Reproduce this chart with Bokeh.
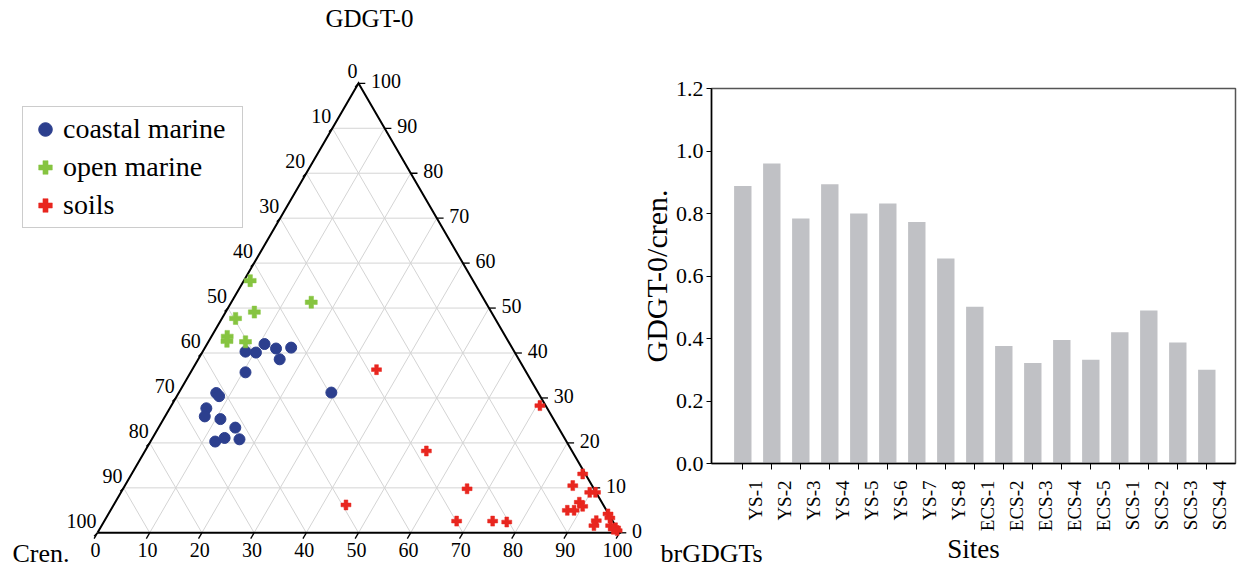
import math
import numpy as np
from bokeh.plotting import figure
from bokeh.layouts import row
from bokeh.models import (Range1d, LinearAxis, FixedTicker, Legend, LegendItem,
                          PrintfTickFormatter, CustomLabelingPolicy)
from bokeh.embed import file_html
from bokeh.resources import INLINE
from bokeh.core.properties import value

# ---------------- ternary data (percent: brGDGTs, GDGT-0, Cren.) ----------------
coastal_br = [11.0, 13.7, 16.5, 8.2, 10.3, 15.6, 10.5, 29.2, 7.2, 8.1, 7.0, 7.6, 10.9, 14.7, 13.8, 16.8, 12.4]
coastal_gdgt0 = [42.0, 41.0, 41.2, 40.3, 40.1, 38.6, 35.7, 31.2, 31.1, 30.4, 27.7, 25.9, 25.3, 23.4, 21.1, 20.8, 20.3]
coastal_cren = [47.0, 45.3, 42.3, 51.5, 49.6, 45.8, 53.8, 39.6, 61.7, 61.5, 65.3, 66.5, 63.8, 61.9, 65.1, 62.4, 67.3]

open_br = [1.2, 15.3, 5.5, 2.6, 3.0, 3.5, 7.1]
open_gdgt0 = [56.1, 51.3, 49.1, 47.7, 43.7, 42.6, 42.5]
open_cren = [42.7, 33.4, 45.4, 49.7, 53.3, 53.9, 50.4]

soil_br = [35.3, 44.5, 70.6, 53.9, 65.9, 67.5, 74.4, 77.2, 86.4, 85.8, 89.8, 90.9, 88.9, 90.0,
           88.8, 87.5, 95.7, 96.5, 94.2, 94.3, 97.5, 98.7, 99.3, 98.4]
soil_gdgt0 = [36.3, 6.2, 28.3, 18.2, 9.8, 2.6, 2.6, 2.4, 13.1, 10.5, 9.0, 9.0, 6.8, 5.9,
              5.0, 5.0, 4.2, 3.3, 2.7, 1.6, 1.6, 1.1, 0.5, 0.8]
soil_cren = [28.4, 49.3, 1.1, 27.9, 24.3, 29.9, 23.0, 20.4, 0.5, 3.7, 1.2, 0.1, 4.3, 4.1,
             6.2, 7.5, 0.1, 0.2, 3.1, 4.1, 0.9, 0.2, 0.2, 0.8]

tern_ticks = [0, 10, 20, 30, 40, 50, 60, 70, 80, 90, 100]

# ---------------- bar chart data ----------------
sites = ["YS-1", "YS-2", "YS-3", "YS-4", "YS-5", "YS-6", "YS-7", "YS-8",
         "ECS-1", "ECS-2", "ECS-3", "ECS-4", "ECS-5", "SCS-1", "SCS-2", "SCS-3", "SCS-4"]
ratio = [0.888, 0.960, 0.784, 0.894, 0.800, 0.832, 0.773, 0.656, 0.502,
         0.376, 0.322, 0.395, 0.332, 0.420, 0.490, 0.387, 0.300]
ratio_ticks = [0.0, 0.2, 0.4, 0.6, 0.8, 1.0, 1.2]

FONT = "Liberation Serif"
SQ = math.sqrt(3) / 2
PAGE_W, PAGE_H = 1239, 570


def tern_xy(br, g0, cr=None):
    br = np.asarray(br, float)
    g0 = np.asarray(g0, float)
    tot = 100.0 if cr is None else (br + g0 + np.asarray(cr, float))
    b = br / tot * 100.0
    g = g0 / tot * 100.0
    return b + g / 2.0, g * SQ


# ================= ternary figure (full page width, bar chart overlaps its right part) ====
KX, KY = 5.22, 5.19
tp = figure(width=PAGE_W, height=PAGE_H,
            x_range=Range1d(-97 / KX, -97 / KX + PAGE_W / KX),
            y_range=Range1d(532.3 / KY - PAGE_H / KY, 532.3 / KY),
            x_axis_type=None, y_axis_type=None, output_backend="svg", toolbar_location=None,
            min_border=0, outline_line_color=None, frame_align=False)
tp.grid.visible = False

# grid lines
gxs, gys = [], []
for v in tern_ticks[1:-1]:
    for (b0, g0_), (b1, g1) in [((0, v), (100 - v, v)),          # const GDGT-0
                                 ((v, 0), (v, 100 - v)),          # const brGDGTs
                                 ((100 - v, 0), (0, 100 - v))]:   # const Cren.
        x0, y0 = tern_xy(b0, g0_)
        x1, y1 = tern_xy(b1, g1)
        gxs.append([float(x0), float(x1)])
        gys.append([float(y0), float(y1)])
tp.multi_line(gxs, gys, line_color="#d4d4d4", line_width=1)

# ticks
tk = np.array(tern_ticks, float)
L = 1.3
txs, tys = [], []
for v in tk:
    x, y = tern_xy(100 - v, v)            # right axis GDGT-0
    txs.append([float(x), float(x) + L]); tys.append([float(y), float(y)])
    x, y = tern_xy(v, 0)                  # bottom axis brGDGTs
    txs.append([float(x), float(x) - 0.5 * L]); tys.append([float(y), float(y) - SQ * L])
    x, y = tern_xy(0, 100 - v)            # left axis Cren.
    txs.append([float(x), float(x) - 0.5 * L]); tys.append([float(y), float(y) - SQ * L * 0.6])
tp.multi_line(txs, tys, line_color="black", line_width=1.3)

# triangle outline
ox, oy = tern_xy([0, 100, 0, 0], [0, 0, 100, 0])
tp.line(ox, oy, line_color="black", line_width=2, line_join="miter")

# tick labels
labels = [str(int(v)) for v in tern_ticks]
lx, ly = tern_xy(0, 100 - tk)
tp.text(lx - 0.2, ly + 1.0, text=labels, text_font=value(FONT), text_font_size=value("20px"),
        text_align="right", text_baseline="bottom", text_color="black")
rx, ry = tern_xy(100 - tk, tk)
tp.text(rx + 2.4, ry + 0.4, text=labels, text_font=value(FONT), text_font_size=value("20px"),
        text_align="left", text_baseline="middle", text_color="black")
bx, by = tern_xy(tk, 0 * tk)
tp.text(bx - 0.4, by - 1.9, text=labels, text_font=value(FONT), text_font_size=value("20px"),
        text_align="center", text_baseline="top", text_color="black")

# axis (vertex) titles
ax_, ay_ = tern_xy(0, 100)
tp.text([float(ax_) + 2.1], [float(ay_) + 15.0], text=["GDGT-0"], text_font=value(FONT),
        text_font_size=value("25px"), text_align="center", text_baseline="top",
        text_color="black")
cx_, cy_ = tern_xy(0, 0)
tp.text([float(cx_) - 16.3], [float(cy_) - 1.2], text=["Cren."], text_font=value(FONT),
        text_font_size=value("26px"), text_align="left", text_baseline="top",
        text_color="black")
bvx, bvy = tern_xy(100, 0)
tp.text([float(bvx) + 7.85], [float(bvy) - 1.2], text=["brGDGTs"], text_font=value(FONT),
        text_font_size=value("26px"), text_align="left", text_baseline="top",
        text_color="black")

# data points
x, y = tern_xy(coastal_br, coastal_gdgt0, coastal_cren)
r1 = tp.scatter(x, y, marker="circle", size=11, fill_color="#2c3f8e", line_color="#2c3f8e")
x, y = tern_xy(open_br, open_gdgt0, open_cren)
r2 = tp.scatter(x, y, marker="plus", size=12, fill_color="#86c440", line_color="#86c440", line_width=0.5)
x, y = tern_xy(soil_br, soil_gdgt0, soil_cren)
r3 = tp.scatter(x, y, marker="plus", size=10, fill_color="#e8261f", line_color="#e8261f", line_width=0.5)

legend = Legend(items=[LegendItem(label="coastal marine", renderers=[r1]),
                       LegendItem(label="open marine", renderers=[r2]),
                       LegendItem(label="soils", renderers=[r3])],
                location=(22, 342), orientation="vertical",
                label_text_font=FONT, label_text_font_size="28px", label_text_color="black",
                label_height=34, glyph_height=34, glyph_width=34, spacing=4,
                padding=5, margin=0, label_standoff=1, label_width=174,
                border_line_color="#9a9a9a", border_line_width=1.5,
                background_fill_color="white", background_fill_alpha=1.0)
tp.add_layout(legend)

# ================= bar figure (overlaps the right part of the page) =================
xpos = list(range(1, len(sites) + 1))
B_START = 620
RW = PAGE_W - B_START
bp = figure(width=RW, height=PAGE_H, x_range=Range1d(-0.0793, -0.0793 + 524 / 29.0),
            y_range=Range1d(0, 1.2), output_backend="svg", toolbar_location=None,
            min_border_left=711 - B_START, min_border_right=RW - (1235 - B_START),
            min_border_top=88, min_border_bottom=PAGE_H - 463, frame_align=False,
            outline_line_color="#555555", outline_line_width=1.5,
            border_fill_alpha=0.0, background_fill_color="white")
bp.styles = {"margin-left": f"-{RW}px"}
bp.grid.visible = False
bp.vbar(x=xpos, top=ratio, width=0.6, fill_color="#c0c1c5", line_color=None)

ya = bp.yaxis[0]
ya.ticker = FixedTicker(ticks=ratio_ticks)
ya.formatter = PrintfTickFormatter(format="%.1f")
ya.minor_tick_line_color = None
ya.major_tick_out = 5
ya.major_tick_in = 0
ya.major_label_standoff = 3
ya.axis_line_width = 1.5
ya.major_label_text_font = FONT
ya.major_label_text_font_size = "22px"
ya.major_label_text_color = "black"
ya.axis_label = "GDGT-0/cren."
ya.axis_label_text_font = FONT
ya.axis_label_text_font_size = "30px"
ya.axis_label_text_font_style = "normal"
ya.axis_label_text_color = "black"
ya.axis_label_standoff = 0

xa = bp.xaxis[0]
xa.ticker = FixedTicker(ticks=xpos)
xa.minor_tick_line_color = None
xa.major_tick_out = 6
xa.major_tick_in = 0
xa.axis_line_width = 1.5
xa.major_label_text_font_size = "1px"
xa.major_label_standoff = 0
xa.major_label_policy = CustomLabelingPolicy(code="""
    const n = indices.size;
    for (let i = 0; i < n; i++) {
        if (typeof indices.unset === "function") indices.unset(i); else indices.set(i, false);
    }
    return indices;
""")

label_pos = [round(p + 0.44, 2) for p in xpos]
xa2 = LinearAxis(ticker=FixedTicker(ticks=label_pos),
                 major_label_overrides={lp: s for lp, s in zip(label_pos, sites)})
xa2.axis_line_color = None
xa2.major_tick_line_color = None
xa2.minor_tick_line_color = None
xa2.major_label_orientation = math.pi / 2
xa2.major_label_text_font = FONT
xa2.major_label_text_font_size = "19px"
xa2.major_label_text_color = "black"
xa2.major_label_standoff = 1
xa2.axis_label = "Sites"
xa2.axis_label_text_font = FONT
xa2.axis_label_text_font_size = "27px"
xa2.axis_label_text_font_style = "normal"
xa2.axis_label_text_color = "black"
xa2.axis_label_standoff = 0
bp.add_layout(xa2, "below")

layout = row(tp, bp)
open("out.html", "w").write(file_html(layout, INLINE))
